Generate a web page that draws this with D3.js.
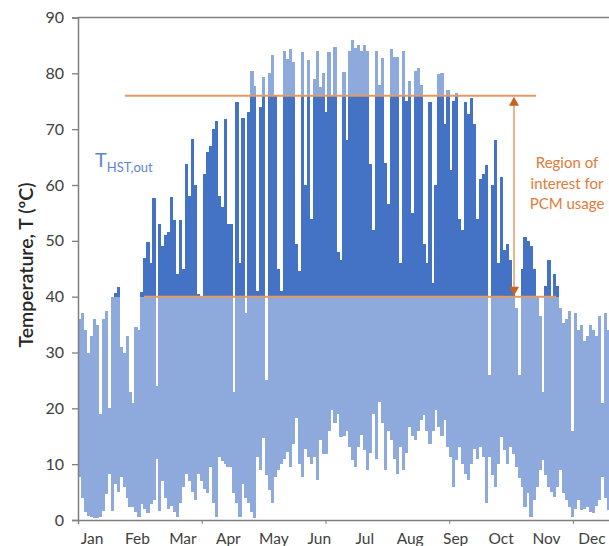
<!DOCTYPE html>
<meta charset="utf-8">
<script src="https://d3js.org/d3.v7.min.js"></script>
<style>
  body { margin: 0; background: #fff; }
  text { font-family: Lato, "Open Sans", sans-serif; }
</style>
<body>
<div id="vis"></div>
<script>
// two-day periods over the year: highest and lowest T_HST,out (ºC)
var periodMax = [36,37,34,30,33,36,35,19,36,37.5,20,40,40.6,41.8,31,30,33,23,21,34.5,
  34,40.8,47,49.8,46,57.6,24,53,49,51,51.5,57.8,53.7,44,53.7,45,63.8,58,68.3,60,
  40.5,40,62,66,67,70,71.5,58,56,71.8,53,53,23,74.8,46,72,37,73,80.5,77.8,
  41,74,79.3,25,80,83.2,76,45,41,84,82.6,84.4,82,49.5,44.6,83.8,60,82.3,54,79,
  84,77.5,80,73,83.8,76,84.7,48,46.5,80.2,68,84,86,84.5,85,84,85,84,63.8,52,
  84,78,82.8,64,56.6,84.4,83,83,46,84,75,78.7,55,80.5,81,78,49.5,46,74.8,42.4,
  60,79.9,80,71,77,62.6,75,76.4,54,52,74.8,72.7,75.6,71,54,61,62,63.5,26,60,
  68,46,61.4,48.3,49.5,46.5,41.1,38,26,45,50.6,50,49,45,40,36.5,23,42,46.5,40,
  44,42,38,35.2,36,37.5,16,37,34,35,32,33,35,34,33,36.5,21,37,34,33,
  32,30,31];
var periodMin = [7.7,4,1.5,0.8,0.5,0.3,0.3,0.5,1.7,4.6,8.3,1.7,6.5,5,7.7,6,4,2.3,2.3,1.5,
  0.5,2.9,2,1.2,2.9,3.5,11,1.7,7,4,2,2.5,1.5,0.5,3,6,8.3,7,5,3.5,
  8.3,7,5.5,4.8,9.5,3,0.5,11.3,10.5,10,9.5,9.5,4.8,3,0.6,6.5,4,3,1.5,0.3,
  11.3,9,14.7,8,5.4,3,7.7,9,10,11,12.2,9.5,13.7,18.2,10,7.7,12.8,11.3,10,11.3,
  7.1,14.3,11.9,11.9,16,19.7,17.3,19,14.9,15,16,13,10.7,9.5,13,15.2,12.5,8.9,12,19,
  11,21.1,17.3,8.9,16,14.3,11,8.3,13,8.9,12,16.6,15,14.3,16,17.9,18.8,16,13.7,16,
  19.7,16.6,15,17.9,13,11.3,6,10.7,13,10,8.3,7.1,10,12.8,11,13,11.3,3,11.3,8,
  6,10,14.9,12.5,10,13,11.9,9.5,7.5,6,2.4,4.8,0.6,3.6,6,8.9,10.7,8,6,5,
  4.2,6,8.9,4.8,3.5,2.4,0.6,2,3.6,1.8,2,2.4,1.5,1.2,2.5,3.6,7.7,4,1.8,3,
  4,3,2];
var months = ["Jan","Feb","Mar","Apr","May","Jun","Jul","Aug","Sep","Oct","Nov","Dec"];
var yTicks = [0,10,20,30,40,50,60,70,80,90];
var hourTicks = [0,2000,4000,6000,8000];
var pcmLow = 40, pcmHigh = 76;

var width = 609, height = 546;
var svg = d3.select("#vis").append("svg")
  .attr("width", width).attr("height", height);

var x = d3.scaleLinear().domain([0, 365]).range([78, 620]);      // days
var xh = d3.scaleLinear().domain([0, 8760]).range([78, 620]);    // hours
var y = d3.scaleLinear().domain([0, 90]).range([520, 17.5]);
var xm = d3.scalePoint().domain(months).range([92, 592]);

var light = "#8eaadc", dark = "#4472c4";

var periods = periodMax.map(function(v, i) { return {i: i, hi: v, lo: periodMin[i]}; });

// full temperature range
svg.append("g").selectAll("rect")
  .data(periods)
  .enter().append("rect")
    .attr("x", function(d) { return x(d.i * 2); })
    .attr("width", function(d) { return x(d.i * 2 + 2) - x(d.i * 2) + 0.3; })
    .attr("y", function(d) { return y(d.hi); })
    .attr("height", function(d) { return y(d.lo) - y(d.hi); })
    .attr("shape-rendering", "crispEdges")
    .style("fill", light);

// part inside the PCM region
svg.append("g").selectAll("rect")
  .data(periods.filter(function(d) { return d.hi > pcmLow; }))
  .enter().append("rect")
    .attr("x", function(d) { return x(d.i * 2); })
    .attr("width", function(d) { return x(d.i * 2 + 2) - x(d.i * 2) + 0.3; })
    .attr("y", function(d) { return y(Math.min(d.hi, pcmHigh)); })
    .attr("height", function(d) { return y(pcmLow) - y(Math.min(d.hi, pcmHigh)); })
    .attr("shape-rendering", "crispEdges")
    .style("fill", dark);

// top frame line
svg.append("line")
  .attr("x1", 78).attr("x2", width)
  .attr("y1", y(90)).attr("y2", y(90))
  .attr("stroke", "#7f7f7f").attr("stroke-width", 1.5);

// y axis
var yAxis = svg.append("g")
  .attr("transform", "translate(78,0)")
  .call(d3.axisLeft(y).tickValues(yTicks).tickSize(6).tickPadding(8));
yAxis.select(".domain").attr("stroke", "#7f7f7f").attr("stroke-width", 1.5);
yAxis.selectAll(".tick line").attr("stroke", "#7f7f7f").attr("stroke-width", 1.3);
yAxis.selectAll("text").style("font-size", "16px").style("fill", "#404040");

// x axis
var xAxis = svg.append("g")
  .attr("transform", "translate(0,520)")
  .call(d3.axisBottom(xh).tickValues(hourTicks).tickSize(4).tickFormat(""));
xAxis.select(".domain").attr("stroke", "#7f7f7f").attr("stroke-width", 1.5);
xAxis.selectAll(".tick line").attr("stroke", "#7f7f7f");

svg.append("g").selectAll("text")
  .data(months)
  .enter().append("text")
    .attr("x", function(d) { return xm(d); })
    .attr("y", 544)
    .attr("text-anchor", "middle")
    .style("font-size", "15.5px")
    .style("fill", "#404040")
    .text(function(d) { return d; });

// axis title
svg.append("text")
  .attr("transform", "translate(33,265) rotate(-90)")
  .attr("text-anchor", "middle")
  .style("font-size", "19.5px")
  .style("font-weight", "600")
  .style("fill", "#262626")
  .text("Temperature, T (ºC)");

// series label
var lab = svg.append("text")
  .attr("x", 95).attr("y", 167)
  .style("fill", "#5b86d0")
  .style("font-size", "20px");
lab.append("tspan").text("T");
lab.append("tspan").attr("dy", 5).style("font-size", "13px").text("HST,out");

// PCM region lines
var orange = "#e59a62";
svg.append("line")
  .attr("x1", 125).attr("x2", 536)
  .attr("y1", y(pcmHigh)).attr("y2", y(pcmHigh))
  .attr("stroke", orange).attr("stroke-width", 2);
svg.append("line")
  .attr("x1", 144).attr("x2", 556)
  .attr("y1", y(pcmLow)).attr("y2", y(pcmLow))
  .attr("stroke", orange).attr("stroke-width", 2);

// double arrow
var ax = 514;
svg.append("line")
  .attr("x1", ax).attr("x2", ax)
  .attr("y1", y(pcmHigh) + 6).attr("y2", y(pcmLow) - 6)
  .attr("stroke", orange).attr("stroke-width", 1.5);
svg.append("path")
  .attr("d", "M" + ax + "," + (y(pcmHigh) + 1) + " l-5,9 h10 z")
  .attr("fill", "#c9621f");
svg.append("path")
  .attr("d", "M" + ax + "," + (y(pcmLow) - 1) + " l-5,-9 h10 z")
  .attr("fill", "#c9621f");

svg.append("g").selectAll("text")
  .data(["Region of", "interest for", "PCM usage"])
  .enter().append("text")
    .attr("x", 567)
    .attr("y", function(d, i) { return 168 + i * 20.5; })
    .attr("text-anchor", "middle")
    .style("font-size", "15px")
    .style("fill", "#e07b39")
    .text(function(d) { return d; });
</script>
</body>
